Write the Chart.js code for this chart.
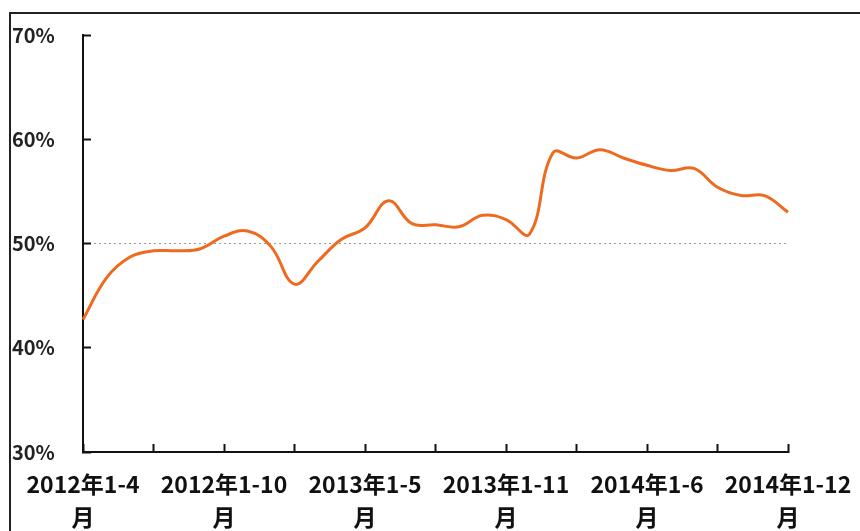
<!DOCTYPE html>
<html>
<head>
<meta charset="utf-8">
<script src="https://cdn.jsdelivr.net/npm/chart.js@4/dist/chart.umd.min.js"></script>
<style>
	html, body { margin: 0; padding: 0; background: #fff; }
	#wrap { position: relative; width: 860px; height: 531px; }
	#frame { position: absolute; left: 9px; top: 12px; right: 0; bottom: 0; border-top: 2px solid #222; border-left: 2px solid #222; pointer-events: none; }
</style>
</head>
<body>
<div id="wrap">
	<canvas id="chart" width="860" height="531"></canvas>
	<div id="frame"></div>
</div>
<script>
// months: cumulative figures, Jan-x
let months = [
	'2012年1-4月', '2012年1-5月', '2012年1-6月', '2012年1-7月', '2012年1-8月', '2012年1-9月',
	'2012年1-10月', '2012年1-11月', '2012年1-12月', '2013年1-2月', '2013年1-3月', '2013年1-4月',
	'2013年1-5月', '2013年1-6月', '2013年1-7月', '2013年1-8月', '2013年1-9月', '2013年1-10月',
	'2013年1-11月', '2013年1-12月', '2014年1-2月', '2014年1-3月', '2014年1-4月', '2014年1-5月',
	'2014年1-6月', '2014年1-7月', '2014年1-8月', '2014年1-9月', '2014年1-10月', '2014年1-11月',
	'2014年1-12月'
];
let ratio = [
	42.7, 46.7, 48.7, 49.3, 49.3, 49.5,
	50.7, 51.2, 49.7, 46.1, 48.3, 50.4,
	51.5, 54.1, 51.9, 51.8, 51.6, 52.7,
	52.3, 50.9, 58.7, 58.2, 59.0, 58.2,
	57.5, 57.0, 57.2, 55.4, 54.6, 54.6,
	53.0
];
let yTicks = [30, 40, 50, 60, 70];

const FAMILY = "'Noto Sans CJK SC', 'DejaVu Sans', sans-serif";

const ctx = document.getElementById('chart').getContext('2d');
const myChart = new Chart(ctx, {
	type: 'line',
	data: {
		labels: months,
		datasets: [{
			data: ratio,
			borderColor: '#EE6A1E',
			borderWidth: 3,
			pointRadius: 0,
			fill: false,
			tension: 0.4
		}]
	},
	options: {
		responsive: false,
		animation: false,
		layout: { padding: { left: 12, top: 35, right: 72, bottom: 0 } },
		plugins: {
			legend: { display: false },
			tooltip: { enabled: false }
		},
		scales: {
			x: {
				offset: false,
				afterFit: (scale) => {
					scale.height = 79;
					// labels may overflow the plot, keep the plot width fixed
					scale.paddingLeft = 0;
					scale.paddingRight = 0;
				},
				border: { color: '#111', width: 2 },
				grid: {
					drawOnChartArea: false,
					tickLength: -8,
					tickWidth: 2,
					tickColor: (c) => c.index % 3 === 0 ? '#111' : 'rgba(0,0,0,0)'
				},
				ticks: {
					autoSkip: false,
					maxRotation: 0,
					padding: 24,
					color: '#111',
					font: { family: FAMILY, size: 23, weight: 'bold', lineHeight: 1.43 },
					callback: function (value, index) {
						if (index % 6 !== 0) return '';
						let lbl = months[index];
						return [lbl.slice(0, -1), lbl.slice(-1)];
					}
				}
			},
			y: {
				min: 30,
				max: 70,
				afterFit: (scale) => { scale.width = 71; },
				afterBuildTicks: (scale) => { scale.ticks = yTicks.map((v) => ({ value: v })); },
				border: { color: '#111', width: 2, dash: [2, 3] },
				grid: {
					tickLength: -8,
					tickWidth: 2,
					tickColor: '#111',
					tickBorderDash: [],
					lineWidth: 1,
					color: (c) => c.tick && c.tick.value === 50 ? '#9a9a9a' : 'rgba(0,0,0,0)'
				},
				ticks: {
					crossAlign: 'far',
					color: '#222',
					font: { family: FAMILY, size: 20, weight: 'bold' },
					callback: (v) => v + '%'
				}
			}
		}
	}
});
</script>
</body>
</html>
